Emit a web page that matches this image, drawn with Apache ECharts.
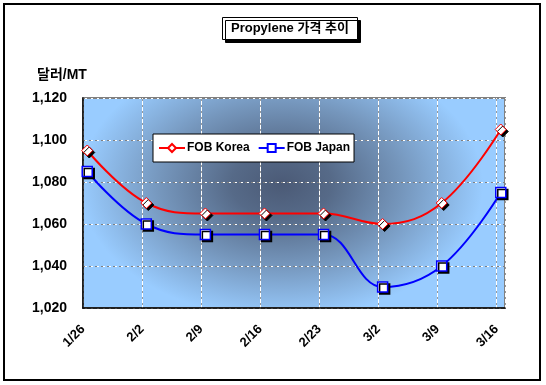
<!DOCTYPE html>
<html><head><meta charset="utf-8">
<script src="https://cdn.jsdelivr.net/npm/echarts@6/dist/echarts.min.js"></script>
<style>html,body{margin:0;padding:0;background:#fff}#c{width:546px;height:385px}</style>
</head><body><div id="c"></div>
<script>
const categories = ['1/26','2/2','2/9','2/16','2/23','3/2','3/9','3/16'];
const fobKorea = [1095,1070,1065,1065,1065,1060,1070,1105];
const fobJapan = [1085,1060,1055,1055,1055,1030,1040,1075];
const yMin = 1020, yMax = 1120, yStep = 20;
const dayStep = 7;

const FONT = '"Liberation Sans", Arial, "Noto Sans CJK KR", sans-serif';
const G = {left: 83, top: 98, width: 422, height: 210};
const xMax = categories.length * dayStep - dayStep + 1; // 50 days span
const toPts = arr => arr.map((v, i) => [i * dayStep + 0.5, v]);
const fmtNum = v => String(v).replace(/\B(?=(\d{3})+(?!\d))/g, ',');

const sx = 1.5;
const chart = echarts.init(document.getElementById('c'));
const vGray = {show: true, lineStyle: {color: '#9a9a9a', type: [3, 3], width: 1}};
const vWhite = {show: true, lineStyle: {color: '#ffffff', type: [4, 2], dashOffset: 3, width: 1}};
const hGray = {show: true, lineStyle: {color: '#808080', type: [4, 2], width: 1}};
const hWhite = {show: true, lineStyle: {color: '#ffffff', type: [2, 4], dashOffset: 4, width: 1}};

chart.setOption({
  animation: false,
  backgroundColor: '#fff',
  title: [{
    text: 'Propylene 가격 추이',
    left: 222, top: 17,
    padding: [4, 9, 4, 9],
    backgroundColor: '#fff', borderColor: '#000', borderWidth: 1,
    shadowColor: '#000', shadowOffsetX: 3, shadowOffsetY: 3, shadowBlur: 0,
    textStyle: {fontFamily: FONT, fontSize: 13, fontWeight: 'bold', color: '#000', lineHeight: 15}
  }, {
    text: '달러/MT', left: 37, top: 68, padding: 0,
    textStyle: {fontFamily: FONT, fontSize: 14, fontWeight: 'bold', color: '#000'}
  }],
  legend: {
    left: 153, top: 134,
    padding: [8, 4, 8, 5],
    itemGap: 8, itemWidth: 26, itemHeight: 10,
    backgroundColor: '#fff', borderColor: '#000', borderWidth: 1,
    textStyle: {fontFamily: FONT, fontSize: 12, fontWeight: 'bold', color: '#000', padding: [0, 0, 0, -3]},
    data: ['FOB Korea', 'FOB Japan']
  },
  graphic: [
    {type: 'rect', z: -2, x: G.left, y: G.top, shape: {x: 0, y: 0, width: G.width, height: G.height},
     style: {fill: '#99ccff'}, silent: true},
    {type: 'rect', z: -1, x: G.left, y: G.top, scaleX: sx,
     shape: {x: 0, y: 0, width: G.width / sx, height: G.height},
     style: {fill: new echarts.graphic.RadialGradient(0.47, 0.41, 0.64, [
       {offset: 0, color: '#4b5a76'},
       {offset: 0.25, color: '#566a88'},
       {offset: 0.6, color: '#7596bc'},
       {offset: 1, color: 'rgba(153,204,255,1)'}
     ])}, silent: true},
    {type: 'rect', z: 100, shape: {x: 4, y: 4, width: 536, height: 376},
     style: {fill: null, stroke: '#000', lineWidth: 2}, silent: true}
  ],
  grid: {left: G.left, top: G.top, width: G.width, height: G.height,
         show: true, backgroundColor: 'transparent', borderColor: '#808080', borderWidth: 2},
  xAxis: [{
    type: 'value', min: 0, max: xMax, interval: dayStep,
    axisLine: {show: true, lineStyle: {color: '#000', width: 1.5}},
    axisTick: {show: false},
    splitLine: vGray,
    axisLabel: {
      rotate: 45, margin: 19, showMaxLabel: false,
      fontFamily: FONT, fontSize: 13, fontWeight: 'bold', color: '#000',
      formatter: v => (v % dayStep === 0 && v / dayStep < categories.length) ? categories[v / dayStep] : ''
    }
  }, {
    type: 'value', min: 0, max: xMax, interval: dayStep, position: 'bottom',
    axisLine: {show: false}, axisTick: {show: false}, axisLabel: {show: false},
    splitLine: vWhite
  }],
  yAxis: [{
    type: 'value', min: yMin, max: yMax, interval: yStep,
    axisLine: {show: true, lineStyle: {color: '#000', width: 1.5}},
    axisTick: {show: false},
    splitLine: hGray,
    axisLabel: {margin: 16, fontFamily: FONT, fontSize: 14, fontWeight: 'bold', color: '#000', formatter: fmtNum}
  }, {
    type: 'value', min: yMin, max: yMax, interval: yStep, position: 'left',
    axisLine: {show: false}, axisTick: {show: false}, axisLabel: {show: false},
    splitLine: hWhite
  }],
  series: [{
    name: 'FOB Korea', type: 'line', smooth: 0.4,
    xAxisIndex: 0, yAxisIndex: 0,
    data: toPts(fobKorea),
    symbol: 'diamond', symbolSize: 11,
    lineStyle: {color: '#ff0000', width: 2},
    itemStyle: {color: '#fff', borderColor: '#ff0000', borderWidth: 1,
                shadowColor: '#000', shadowOffsetX: 2, shadowOffsetY: 2, shadowBlur: 0},
    z: 3
  }, {
    name: 'FOB Japan', type: 'line', smooth: 0.4,
    xAxisIndex: 0, yAxisIndex: 0,
    data: toPts(fobJapan),
    symbol: 'rect', symbolSize: 10,
    lineStyle: {color: '#0000ff', width: 2},
    itemStyle: {color: '#fff', borderColor: '#0000ff', borderWidth: 1.5,
                shadowColor: '#000', shadowOffsetX: 2, shadowOffsetY: 2, shadowBlur: 0},
    z: 3
  }]
});
</script></body></html>
